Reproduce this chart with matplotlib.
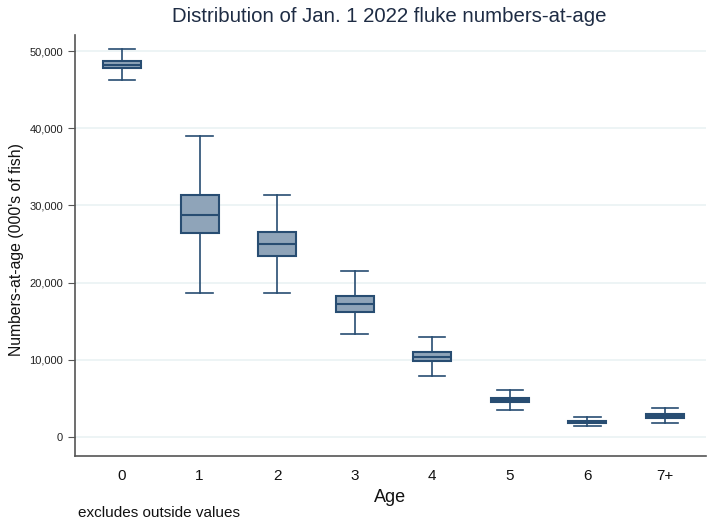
import matplotlib
matplotlib.use("Agg")
import matplotlib.pyplot as plt
from matplotlib.ticker import FuncFormatter

# Numbers-at-age summary statistics (000's of fish)
ages = ["0", "1", "2", "3", "4", "5", "6", "7+"]
whisker_low = [46250, 18650, 18700, 13350, 7860, 3550, 1380, 1800]
q1 = [47800, 26400, 23500, 16150, 9800, 4500, 1800, 2500]
median = [48250, 28750, 24950, 17200, 10360, 4800, 1950, 2700]
q3 = [48650, 31400, 26550, 18200, 10970, 5100, 2100, 2950]
whisker_high = [50200, 39000, 31400, 21450, 12950, 6090, 2600, 3700]

edge = "#284d72"
fill = "#8fa4b9"
font = "Liberation Sans"

stats = []
for i, lab in enumerate(ages):
    stats.append(dict(label=lab, whislo=whisker_low[i], q1=q1[i], med=median[i],
                      q3=q3[i], whishi=whisker_high[i], fliers=[]))

fig = plt.figure(figsize=(7.11, 5.21), dpi=100)
W, H = 711, 521
ax = fig.add_axes([75 / W, (H - 456) / H, (706 - 75) / W, (456 - 35) / H])

positions = list(range(len(ages)))
ax.bxp(stats, positions=positions, widths=0.49, patch_artist=True,
       showfliers=False,
       boxprops=dict(facecolor=fill, edgecolor=edge, linewidth=1.5),
       medianprops=dict(color=edge, linewidth=1.5),
       whiskerprops=dict(color=edge, linewidth=1.2),
       capprops=dict(color=edge, linewidth=1.2),
       capwidths=0.34, zorder=3)

ax.set_xlim(-0.606, 7.53)
ax.set_ylim(-2461, 52073)
ax.set_yticks([0, 10000, 20000, 30000, 40000, 50000])
ax.yaxis.set_major_formatter(FuncFormatter(lambda v, p: f"{int(v):,}"))
ax.grid(axis="y", color="#eaf2f3", linewidth=1.2, zorder=0)
ax.set_axisbelow(True)

for s in ["top", "right"]:
    ax.spines[s].set_visible(False)
for s in ["left", "bottom"]:
    ax.spines[s].set_color("#555555")
    ax.spines[s].set_linewidth(1.2)

ax.tick_params(axis="y", length=5, width=0.8, color="#555555", labelsize=8,
               labelcolor="#222222", pad=3.5)
ax.tick_params(axis="x", length=0, labelsize=11, labelcolor="#111111", pad=9)
ax.set_xticks(positions)
ax.set_xticklabels(ages)

for t in ax.get_xticklabels() + ax.get_yticklabels():
    t.set_fontfamily(font)

ax.set_xlabel("Age", fontsize=13, family=font, color="#111111", labelpad=5)

fig.text(17 / W, 1 - 250 / H, "Numbers-at-age (000's of fish)", rotation=90,
         ha="center", va="center", fontsize=11.3, family=font, color="#111111")
fig.text(389 / W, 1 - 17 / H, "Distribution of Jan. 1 2022 fluke numbers-at-age",
         ha="center", va="center", fontsize=14.7, family=font, color="#1e2c44")
fig.text(78 / W, 1 - 513 / H, "excludes outside values", ha="left", va="center",
         fontsize=11, family=font, color="#111111")

fig.savefig("out.png", dpi=100)
